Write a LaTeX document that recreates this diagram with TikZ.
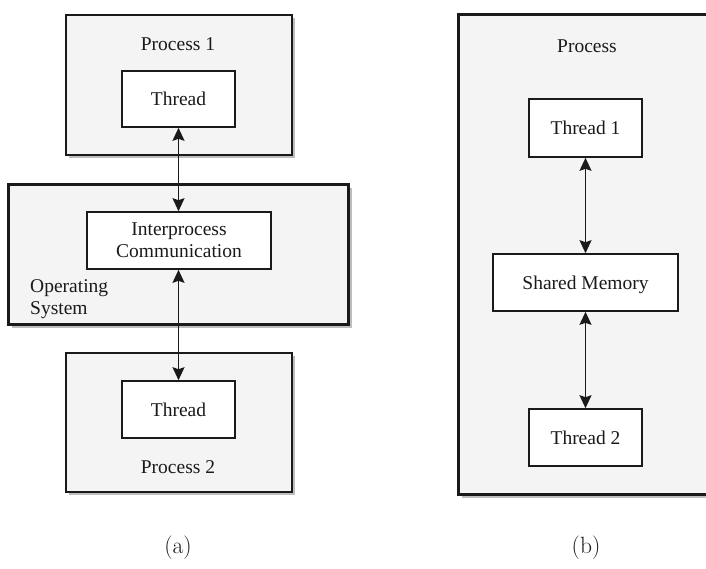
\documentclass[tikz,border=0pt]{standalone}
\usepackage{fontspec}
\newfontfamily\tnr{Liberation Serif}
\usetikzlibrary{arrows.meta,shadows}
\definecolor{boxfill}{HTML}{F4F4F4}
\definecolor{shadowgray}{HTML}{BDBDBD}
\definecolor{ink}{HTML}{1A1A1A}
\begin{document}
\begin{tikzpicture}[x=1pt,y=-1pt,
  txt/.style={font=\tnr\fontsize{19.5}{22}\selectfont, text=ink},
  outerbox/.style={rectangle, inner sep=0pt, fill=boxfill, draw=ink, line width=1.6pt,
    drop shadow={shadow xshift=3pt, shadow yshift=-3pt, fill=shadowgray, opacity=1}},
  thickbox/.style={rectangle, inner sep=0pt, fill=boxfill, draw=ink, line width=3pt,
    drop shadow={shadow xshift=4pt, shadow yshift=-4pt, fill=shadowgray, opacity=1}},
  innerbox/.style={txt, draw=ink, fill=white, line width=1.6pt, rectangle, inner sep=0pt,
    text depth=0pt, align=center},
  link/.style={line width=1.6pt, draw=ink, {Stealth[length=13pt,width=12pt,inset=2pt]}-{Stealth[length=13pt,width=12pt,inset=2pt]}},
  captext/.style={font=\fontsize{23.5}{26}\selectfont, text=ink}]
\useasboundingbox (0,0) rectangle (706,568);
\fill[white] (0,0) rectangle (706,568);
% (a)
\node[outerbox, minimum width=226pt, minimum height=140pt] (p1) at (179,85) {};
\node[thickbox, minimum width=340pt, minimum height=140pt] (os) at (178,254) {};
\node[outerbox, minimum width=226pt, minimum height=139pt] (p2) at (179,422.5) {};
\node[txt, anchor=base] (p1lbl) at (178,50) {Process 1};
\node[txt, anchor=base] (p2lbl) at (178,473) {Process 2};
\node[innerbox, minimum width=113pt, minimum height=56pt] (t1) at (178.5,99) {Thread};
\node[innerbox, minimum width=113pt, minimum height=57pt] (t2) at (178.5,409.5) {Thread};
\node[innerbox, minimum width=184pt, minimum height=57pt] (ipc) at (179,240.5) {Interprocess\\Communication};
\node[txt, anchor=base west, align=left, inner sep=0pt] (oslbl) at (30,314) {Operating\\System};
\draw[link] (t1.south) -- (t1.south |- ipc.north);
\draw[link] (ipc.south -| t2.north) -- (t2.north);
% (b)
\node[thickbox, minimum width=258pt, minimum height=480pt] (pr) at (587,254) {};
\node[txt, anchor=base] (prlbl) at (587,52) {Process};
\node[innerbox, minimum width=113pt, minimum height=58pt] (th1) at (585.5,128) {Thread 1};
\node[innerbox, minimum width=185pt, minimum height=57pt] (sm) at (585.5,282.5) {Shared Memory};
\node[innerbox, minimum width=113pt, minimum height=57pt] (th2) at (585.5,437.5) {Thread 2};
\draw[link] (th1.south) -- (sm.north);
\draw[link] (sm.south) -- (th2.north);
% captions
\node[captext] (capa) at (178,548) {(a)};
\node[captext] (capb) at (586,548) {(b)};
\end{tikzpicture}
\end{document}
